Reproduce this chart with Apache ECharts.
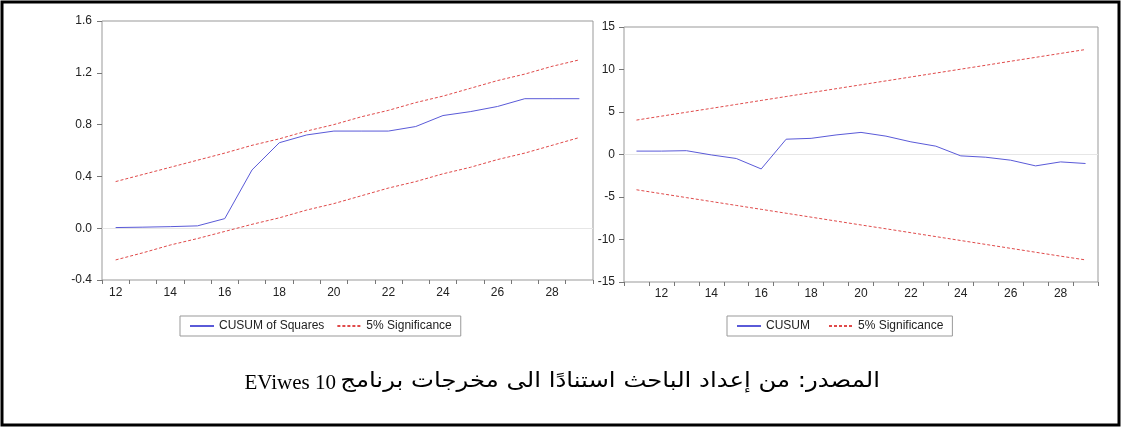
<!DOCTYPE html>
<html>
<head>
<meta charset="utf-8">
<script src="https://cdn.jsdelivr.net/npm/echarts@6/dist/echarts.min.js"></script>
<style>
  html, body { margin: 0; padding: 0; background: #fff; }
  #chart { width: 1124px; height: 429px; }
</style>
</head>
<body>
<div id="chart"></div>
<script>
// --- data ---
const sqYears = ['12', '13', '14', '15', '16', '17', '18', '19', '20', '21', '22', '23', '24', '25', '26', '27', '28', '29'];
const cusumSquares = [0.005, 0.008, 0.012, 0.018, 0.074, 0.45, 0.66, 0.72, 0.75, 0.75, 0.75, 0.785, 0.87, 0.9, 0.94, 1.0, 1.0, 1.0];
const sqUpper = [0.36, 0.415, 0.47, 0.525, 0.58, 0.64, 0.69, 0.75, 0.8, 0.86, 0.91, 0.97, 1.02, 1.08, 1.14, 1.19, 1.25, 1.3];
const sqLower = [-0.245, -0.19, -0.13, -0.08, -0.025, 0.03, 0.08, 0.14, 0.19, 0.25, 0.31, 0.36, 0.42, 0.47, 0.53, 0.58, 0.64, 0.7];

const cuYears = ['11', '12', '13', '14', '15', '16', '17', '18', '19', '20', '21', '22', '23', '24', '25', '26', '27', '28', '29'];
const cusum = [0.4, 0.4, 0.45, -0.05, -0.47, -1.7, 1.8, 1.9, 2.3, 2.6, 2.16, 1.49, 0.98, -0.16, -0.32, -0.67, -1.34, -0.87, -1.06];
const cuUpper = [4.05, 4.51, 4.97, 5.43, 5.89, 6.36, 6.82, 7.28, 7.74, 8.2, 8.66, 9.12, 9.58, 10.04, 10.5, 10.97, 11.43, 11.89, 12.35];
const cuLower = [-4.15, -4.61, -5.07, -5.53, -5.99, -6.45, -6.91, -7.37, -7.83, -8.29, -8.74, -9.2, -9.66, -10.12, -10.58, -11.04, -11.5, -11.96, -12.4];

// caption: arabic part + program name
const captionAr = 'المصدر: من إعداد الباحث استنادًا الى مخرجات برنامج';
const captionEn = 'EViwes 10';

const BLUE = '#5a5ad8';
const RED = '#e04a4a';
const FONT = "'Liberation Sans', Arial, sans-serif";

function xAxisFor(gridIndex, data, oddLabels, margin) {
  return {
    type: 'category',
    gridIndex,
    data,
    boundaryGap: true,
    axisLine: { show: false, onZero: false },
    axisTick: { show: true, interval: 0, length: 4, lineStyle: { color: '#777' } },
    axisLabel: {
      interval: (i) => (oddLabels ? i % 2 === 1 : i % 2 === 0),
      margin,
      fontSize: 12,
      fontFamily: FONT,
      color: '#222',
    },
    splitLine: { show: false },
  };
}

function yAxisFor(gridIndex, min, max, interval, fmt, margin) {
  return {
    type: 'value',
    gridIndex,
    min,
    max,
    interval,
    axisLine: { show: false, onZero: false },
    axisTick: { show: true, length: 5, lineStyle: { color: '#777' } },
    axisLabel: { formatter: fmt, margin, fontSize: 12, fontFamily: FONT, color: '#222' },
    splitLine: { show: false },
  };
}

function lineSeries(name, idx, data, dashed, zeroLine) {
  const s = {
    name,
    type: 'line',
    xAxisIndex: idx,
    yAxisIndex: idx,
    data,
    showSymbol: false,
    symbol: 'none',
    lineStyle: dashed
      ? { color: RED, width: 1, type: [3, 2] }
      : { color: BLUE, width: 1 },
    itemStyle: { color: dashed ? RED : BLUE },
    z: dashed ? 3 : 4,
  };
  if (zeroLine) {
    s.markLine = {
      silent: true,
      symbol: 'none',
      label: { show: false },
      lineStyle: { color: '#e6e6e6', type: 'solid', width: 1 },
      data: [{ yAxis: 0 }],
      z: 1,
    };
  }
  return s;
}

function legendAt(left, names, gap) {
  return {
    left,
    top: 316,
    orient: 'horizontal',
    data: names,
    backgroundColor: '#fff',
    borderColor: '#999',
    borderWidth: 1,
    padding: [4, 9, 4, 9],
    itemWidth: 24,
    itemHeight: 10,
    itemGap: gap,
    itemStyle: { opacity: 0, borderWidth: 0 },
    textStyle: { fontSize: 12, fontFamily: FONT, color: '#222' },
    selectedMode: false,
  };
}

const chart = echarts.init(document.getElementById('chart'), null, { renderer: 'canvas' });

chart.setOption({
  animation: false,
  backgroundColor: '#fff',
  grid: [
    { left: 102, top: 21, width: 491, height: 259, show: true, borderColor: '#999', borderWidth: 1, backgroundColor: '#fff' },
    { left: 624, top: 27, width: 474, height: 255, show: true, borderColor: '#999', borderWidth: 1, backgroundColor: '#fff' },
  ],
  xAxis: [
    xAxisFor(0, sqYears, false, 7),
    xAxisFor(1, cuYears, true, 6),
  ],
  yAxis: [
    yAxisFor(0, -0.4, 1.6, 0.4, (v) => v.toFixed(1), 10),
    yAxisFor(1, -15, 15, 5, (v) => String(v), 9),
  ],
  legend: [
    legendAt(180, ['CUSUM of Squares', '5% Significance'], 12),
    legendAt(727, ['CUSUM', '5% Significance'], 18),
  ],
  series: [
    lineSeries('CUSUM of Squares', 0, cusumSquares, false, true),
    lineSeries('5% Significance', 0, sqUpper, true),
    lineSeries('5% Significance', 0, sqLower, true),
    lineSeries('CUSUM', 1, cusum, false, true),
    lineSeries('5% Significance', 1, cuUpper, true),
    lineSeries('5% Significance', 1, cuLower, true),
  ],
  graphic: [
    {
      type: 'rect',
      shape: { x: 2, y: 2, width: 1117, height: 423 },
      style: { fill: 'none', stroke: '#000', lineWidth: 3 },
      silent: true,
      z: 10,
    },
    {
      // arabic part, right aligned, RLE ... PDF so it runs right to left
      type: 'text',
      x: 880,
      y: 382,
      scaleX: 1.16,
      style: {
        text: '\u202B' + captionAr + '\u202C',
        font: "21px 'DejaVu Sans', serif",
        fill: '#000',
        align: 'right',
        verticalAlign: 'middle',
      },
      silent: true,
      z: 10,
    },
    {
      type: 'text',
      x: 336,
      y: 383,
      style: {
        text: captionEn,
        font: "21px 'Liberation Serif', serif",
        fill: '#000',
        align: 'right',
        verticalAlign: 'middle',
      },
      silent: true,
      z: 10,
    },
  ],
});
</script>
</body>
</html>
